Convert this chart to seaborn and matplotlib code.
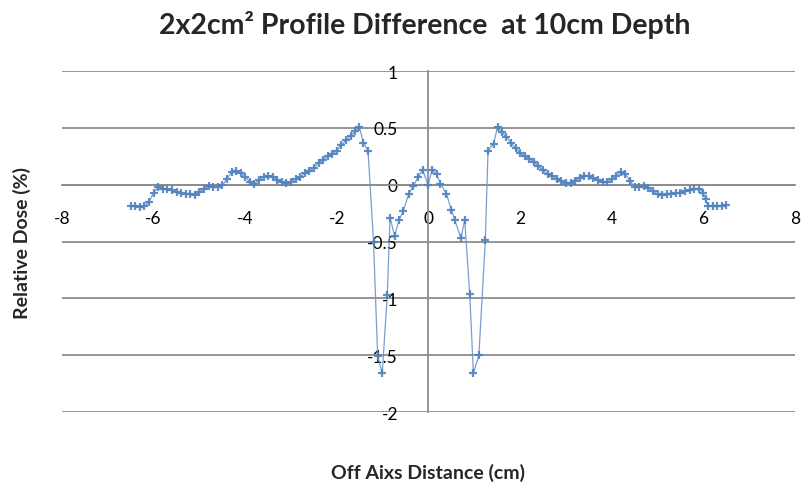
import matplotlib
matplotlib.use("Agg")
import matplotlib.pyplot as plt
import seaborn as sns
import pandas as pd

off_axis_cm = [
    -6.5, -6.4, -6.3, -6.2, -6.1, -6.0, -5.9, -5.8, -5.7, -5.6, -5.5, -5.4, -5.3, -5.2, -5.1,
    -5.0, -4.9, -4.8, -4.7, -4.6, -4.5, -4.4, -4.3, -4.2, -4.1, -4.0, -3.9, -3.8, -3.7, -3.6,
    -3.5, -3.4, -3.3, -3.2, -3.1, -3.0, -2.9, -2.8, -2.7, -2.6, -2.5, -2.4, -2.3, -2.2, -2.1,
    -2.0, -1.9, -1.8, -1.7, -1.6, -1.51, -1.42, -1.32, -1.2, -1.11, -1.01, -0.9, -0.84,
    -0.74, -0.64, -0.55, -0.43, -0.33, -0.22, -0.13, -0.01, 0.08, 0.18, 0.26, 0.39, 0.5,
    0.57, 0.71, 0.79, 0.9, 0.98, 1.1, 1.24, 1.3, 1.42, 1.51,
    1.6, 1.7, 1.8, 1.9, 2.0, 2.1, 2.2, 2.3, 2.4, 2.5, 2.6, 2.7, 2.8, 2.9, 3.0, 3.1, 3.2,
    3.3, 3.4, 3.5, 3.6, 3.7, 3.8, 3.9, 4.0, 4.1, 4.2, 4.3, 4.4, 4.5, 4.6, 4.7, 4.8, 4.9,
    5.0, 5.1, 5.2, 5.3, 5.4, 5.5, 5.6, 5.7, 5.8, 5.9, 6.0, 6.05, 6.1, 6.2, 6.3, 6.4, 6.5,
]
relative_dose = [
    -0.19, -0.19, -0.20, -0.19, -0.15, -0.07, -0.02, -0.035, -0.04, -0.05, -0.065, -0.075,
    -0.08, -0.08, -0.09, -0.065, -0.035, -0.015, -0.02, -0.02, -0.005, 0.05, 0.11, 0.12,
    0.10, 0.07, 0.025, 0.01, 0.04, 0.07, 0.08, 0.07, 0.04, 0.025, 0.015, 0.025, 0.05, 0.07,
    0.10, 0.12, 0.15, 0.19, 0.22, 0.25, 0.27, 0.30, 0.35, 0.39, 0.43, 0.47, 0.51, 0.37,
    0.30, -0.50, -1.51, -1.66, -0.975, -0.29, -0.45, -0.31, -0.23, -0.08, -0.01, 0.07,
    0.13, 0.0, 0.13, 0.09, 0.01, -0.08, -0.22,
    -0.31, -0.47, -0.31, -0.96, -1.66, -1.50, -0.49, 0.30, 0.36, 0.51,
    0.46, 0.42, 0.37, 0.32, 0.28, 0.25, 0.23, 0.20, 0.16, 0.13, 0.09, 0.08, 0.05, 0.03,
    0.015, 0.015, 0.035, 0.06, 0.08, 0.075, 0.06, 0.04, 0.02, 0.02, 0.05, 0.08, 0.11, 0.09,
    0.03, -0.02, -0.02, -0.01, -0.03, -0.06, -0.085, -0.09, -0.085, -0.08, -0.075, -0.07,
    -0.06, -0.05, -0.04, -0.035, -0.07, -0.13, -0.19, -0.19, -0.19, -0.185, -0.175,
]
x_ticks = [-8, -6, -4, -2, 0, 2, 4, 6, 8]
y_ticks = [-2, -1.5, -1, -0.5, 0, 0.5, 1]
x_tick_labels = ["-8", "-6", "-4", "-2", "0", "2", "4", "6", "8"]
y_tick_labels = ["-2", "-1.5", "-1", "-0.5", "0", "0.5", "1"]

df = pd.DataFrame({"x": off_axis_cm, "y": relative_dose})

sns.set_style("white")
plt.rcParams["font.family"] = ["Lato", "DejaVu Sans"]

fig = plt.figure(figsize=(8.03, 4.89), dpi=100)
ax = fig.add_axes([62 / 803, 1 - 413 / 489, (795 - 62) / 803, (413 - 72) / 489])

grid_c = "#8c8c8c"
for yv in y_ticks:
    ax.axhline(yv, color=grid_c, lw=1.3, zorder=0)

sns.lineplot(data=df, x="x", y="y", ax=ax, sort=False, estimator=None,
             color="#6a94cc", lw=0.9, alpha=0.9, marker="+", markersize=6,
             markeredgewidth=1.6, markeredgecolor="#4f81bd", zorder=3)

ax.set_xlim(-8, 8)
ax.set_ylim(-2, 1)
ax.spines["left"].set_position(("data", 0))
ax.spines["bottom"].set_position(("data", 0))
ax.spines["right"].set_visible(False)
ax.spines["top"].set_visible(False)
for s in ("left", "bottom"):
    ax.spines[s].set_color(grid_c)
    ax.spines[s].set_linewidth(1.3)

ax.set_xticks(x_ticks)
ax.set_xticklabels(x_tick_labels)
ax.set_yticks(y_ticks)
ax.set_yticklabels(y_tick_labels)
ax.tick_params(axis="x", length=0, pad=18, labelsize=12.5, labelcolor="#000000")
ax.tick_params(axis="y", length=0, pad=22, labelsize=12.5, labelcolor="#000000")
ax.set_xlabel("")
ax.set_ylabel("")

fig.text(428 / 803, 1 - 473 / 489, "Off Aixs Distance (cm)", ha="center", va="center",
         fontsize=14, fontweight="bold")
fig.text(22 / 803, 1 - 243 / 489, "Relative Dose (%)", ha="center", va="center",
         rotation=90, fontsize=14, fontweight="bold")
fig.text(425 / 803, 1 - 25 / 489, "2x2cm² Profile Difference  at 10cm Depth", ha="center",
         va="center", fontsize=20.5, fontweight="bold")

fig.savefig("out.png", dpi=100)
